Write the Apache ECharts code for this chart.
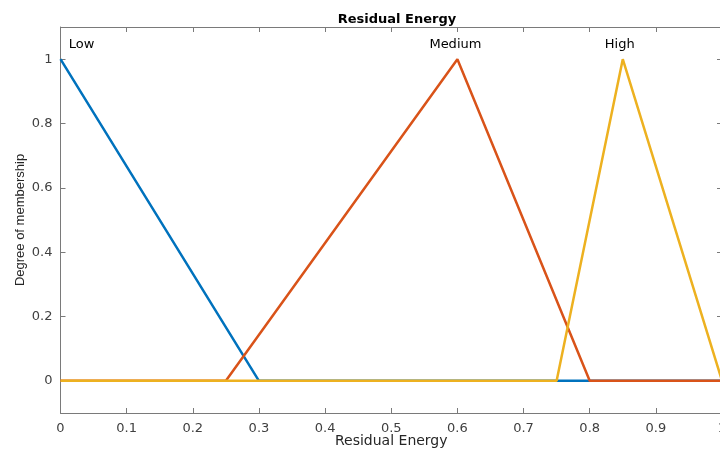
<!DOCTYPE html>
<html>
<head>
<meta charset="utf-8">
<script src="https://cdn.jsdelivr.net/npm/echarts@6/dist/echarts.min.js"></script>
<style>html,body{margin:0;padding:0;background:#fff}#c{width:720px;height:452px}</style>
</head>
<body>
<div id="c"></div>
<script>
const xTicks = [0, 0.1, 0.2, 0.3, 0.4, 0.5, 0.6, 0.7, 0.8, 0.9, 1];
const yTicks = [0, 0.2, 0.4, 0.6, 0.8, 1];
const mfNames = ['Low', 'Medium', 'High'];
const lowX = [0, 0.3, 1];
const lowY = [1, 0, 0];
const mediumX = [0, 0.25, 0.6, 0.8, 1];
const mediumY = [0, 0, 1, 0, 0];
const highX = [0, 0.75, 0.85, 1];
const highY = [0, 0, 1, 0];
const peaks = [[0, 1], [0.6, 1], [0.85, 1]];
const labelOffsets = [[21, 0], [-2, 0], [-3, 0]];
const colors = ['#0072BD', '#D95319', '#EDB120'];

const font = 'Liberation Sans, Arial, Helvetica, sans-serif';
const wideFont = 'DejaVu Sans, Verdana, sans-serif';
const axisGray = '#7a7a7a';
const textGray = '#404040';

function zip(xs, ys) { return xs.map((x, i) => [x, ys[i]]); }
const seriesData = [zip(lowX, lowY), zip(mediumX, mediumY), zip(highX, highY)];

const chart = echarts.init(document.getElementById('c'), null, {renderer: 'canvas'});
const tickStyle = {show: true, inside: true, length: 5, lineStyle: {color: axisGray, width: 1}};
const lineStyle = {show: true, onZero: false, lineStyle: {color: axisGray, width: 1}};
chart.setOption({
  animation: false,
  backgroundColor: '#fff',
  title: {
    text: 'Residual Energy', left: 392, top: 8, textAlign: 'center',
    textStyle: {fontFamily: wideFont, fontSize: 13, fontWeight: 'bold', color: '#000'}
  },
  grid: {left: 60.5, right: -2, top: 27, bottom: 39, containLabel: false, outerBoundsMode: 'none'},
  xAxis: [{
    type: 'value', min: 0, max: 1, interval: 0.1, position: 'bottom',
    name: 'Residual Energy', nameLocation: 'middle', nameGap: 21, nameMoveOverlap: false,
    nameTextStyle: {fontFamily: wideFont, fontSize: 14, color: '#262626'},
    axisLine: lineStyle,
    axisTick: tickStyle,
    axisLabel: {show: true, margin: 9, fontFamily: wideFont, fontSize: 13, color: textGray,
      formatter: v => String(Math.round(v * 10) / 10)},
    splitLine: {show: false}
  }, {
    type: 'value', min: 0, max: 1, interval: 0.1, position: 'top',
    axisLine: lineStyle,
    axisTick: tickStyle, axisLabel: {show: false}, splitLine: {show: false}
  }],
  yAxis: [{
    type: 'value', min: -0.1, max: 1.1, position: 'left',
    name: 'Degree of membership', nameLocation: 'middle', nameGap: 34, nameRotate: 90,
    nameMoveOverlap: false,
    nameTextStyle: {fontFamily: font, fontSize: 13, color: '#262626'},
    axisLine: lineStyle,
    axisTick: Object.assign({}, tickStyle, {customValues: yTicks}),
    axisLabel: {show: true, margin: 8, fontFamily: wideFont, fontSize: 13, color: textGray,
      customValues: yTicks, formatter: v => String(Math.round(v * 10) / 10)},
    splitLine: {show: false}
  }, {
    type: 'value', min: -0.1, max: 1.1, position: 'right',
    axisLine: lineStyle,
    axisTick: Object.assign({}, tickStyle, {customValues: yTicks}),
    axisLabel: {show: false}, splitLine: {show: false}
  }],
  series: mfNames.map((name, i) => ({
    name: name, type: 'line', data: seriesData[i],
    xAxisIndex: 0, yAxisIndex: 0,
    showSymbol: false, symbol: 'none',
    lineStyle: {color: colors[i], width: 2.5},
    z: 2 + i,
    markPoint: {
      symbol: 'circle', symbolSize: 0, silent: true,
      label: {show: true, position: 'top', distance: 8, offset: labelOffsets[i],
        formatter: name, fontFamily: wideFont, fontSize: 13, color: '#000'},
      data: [{coord: peaks[i]}]
    }
  }))
});
</script>
</body>
</html>
